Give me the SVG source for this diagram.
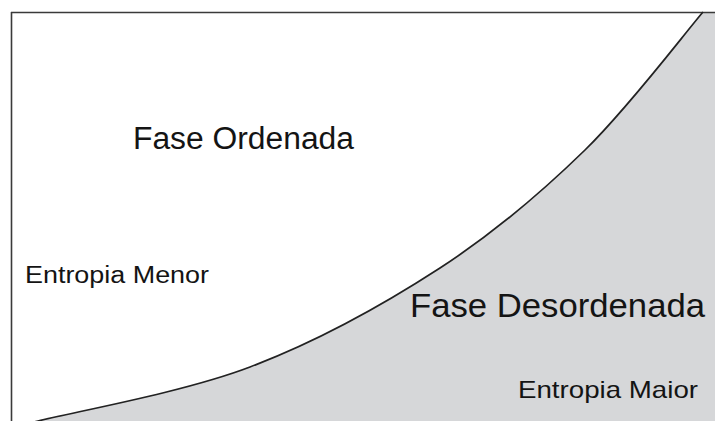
<svg xmlns="http://www.w3.org/2000/svg" width="715" height="421" viewBox="0 0 715 421">
  <style>
    .frame { fill: none; stroke: #3a3a3a; stroke-width: 1.6; }
    .boundary { fill: none; stroke: #222; stroke-width: 1.7; }
    .label { font-family: "Liberation Sans", Arial, sans-serif; fill: #141414; }
  </style>
  <rect width="715" height="421" fill="#ffffff"/>

  <!-- disordered phase region below the transition curve -->
  <g id="disordered-region">
    <path d="M 38 421 C 73.3 412 183 392.5 250 367 C 317 341.5 384.2 304.2 440 268 C 495.8 231.8 541.2 192.7 585 150 C 628.8 107.3 683.3 35 703 12 L 715 12 L 715 421 Z" fill="#d6d7d9"/>
  </g>

  <!-- axes frame -->
  <g id="frame">
    <line class="frame" x1="11" y1="12.5" x2="715" y2="12.5"/>
    <line class="frame" x1="11.5" y1="12" x2="11.5" y2="421"/>
  </g>

  <!-- phase boundary -->
  <g id="boundary">
    <path class="boundary" d="M 30 423 L 38 421 C 73.3 412 183 392.5 250 367 C 317 341.5 384.2 304.2 440 268 C 495.8 231.8 541.2 192.7 585 150 C 628.8 107.3 683.3 35 703 12"/>
  </g>

  <g id="ordered-phase">
    <text class="label" x="133" y="149" font-size="31" textLength="221" lengthAdjust="spacingAndGlyphs">Fase Ordenada</text>
    <text class="label" x="25" y="283" font-size="23.5" textLength="184" lengthAdjust="spacingAndGlyphs">Entropia Menor</text>
  </g>

  <g id="disordered-phase">
    <text class="label" x="410" y="317" font-size="34" textLength="295" lengthAdjust="spacingAndGlyphs">Fase Desordenada</text>
    <text class="label" x="518" y="398" font-size="24" textLength="180" lengthAdjust="spacingAndGlyphs">Entropia Maior</text>
  </g>
</svg>
